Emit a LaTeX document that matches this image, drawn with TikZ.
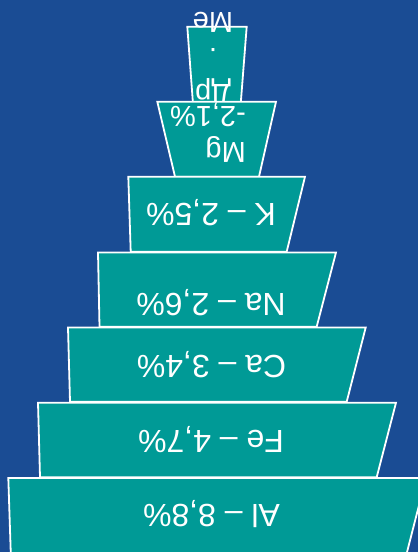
\documentclass[tikz,border=0pt]{standalone}
\usepackage{fontspec}
\setmainfont{Liberation Sans}
\definecolor{bgblue}{HTML}{1A4C94}
\definecolor{teal}{HTML}{009A96}
\begin{document}
\begin{tikzpicture}[x=1pt,y=-1pt,
  tier/.style={fill=teal,draw=white,line width=1.8pt,line join=miter},
  lbl/.style={text=white,rotate=180,inner sep=0pt,font=\fontsize{32}{36}\selectfont},
  lblsmall/.style={text=white,rotate=180,inner sep=0pt,font=\fontsize{29}{36}\selectfont}]
\useasboundingbox (0,0) rectangle (418,552);
\clip (0,0) rectangle (418,552);
\fill[bgblue] (0,0) rectangle (418,552);
% top tier
\draw[tier] (187.3,26.7) -- (246.7,26.7) -- (240.7,104) -- (193,104) -- cycle;
\node[lblsmall,align=center] (other) at (213,58) {Др\\.\\Me};
% Mg
\draw[tier] (157.3,101.7) -- (276,101.7) -- (259,176.7) -- (175,176.7) -- cycle;
\node[lblsmall,align=left] (mg) at (208,133) {Mg\\-2,1\%};
% K
\draw[tier] (128.3,176.7) -- (305,176.7) -- (286.7,251.7) -- (130.7,251.7) -- cycle;
\node[lbl] (k) at (211,213) {K – 2,5\%};
% Na
\draw[tier] (98,252.5) -- (336,252.5) -- (316.7,326.7) -- (99.5,326.7) -- cycle;
\node[lbl] (na) at (211,303) {Na – 2,6\%};
% Ca
\draw[tier] (68,327.5) -- (365.7,327.5) -- (346.7,401.8) -- (70,401.8) -- cycle;
\node[lbl] (ca) at (211.5,365) {Ca – 3,4\%};
% Fe
\draw[tier] (38,402.7) -- (396,402.7) -- (376.7,477.2) -- (40,477.2) -- cycle;
\node[lbl] (fe) at (211,440) {Fe – 4,7\%};
% Al
\draw[tier] (8.3,478) -- (426,478) -- (405,560) -- (11,560) -- cycle;
\node[lbl] (al) at (211.5,514) {Al – 8,8\%};
\end{tikzpicture}
\end{document}
